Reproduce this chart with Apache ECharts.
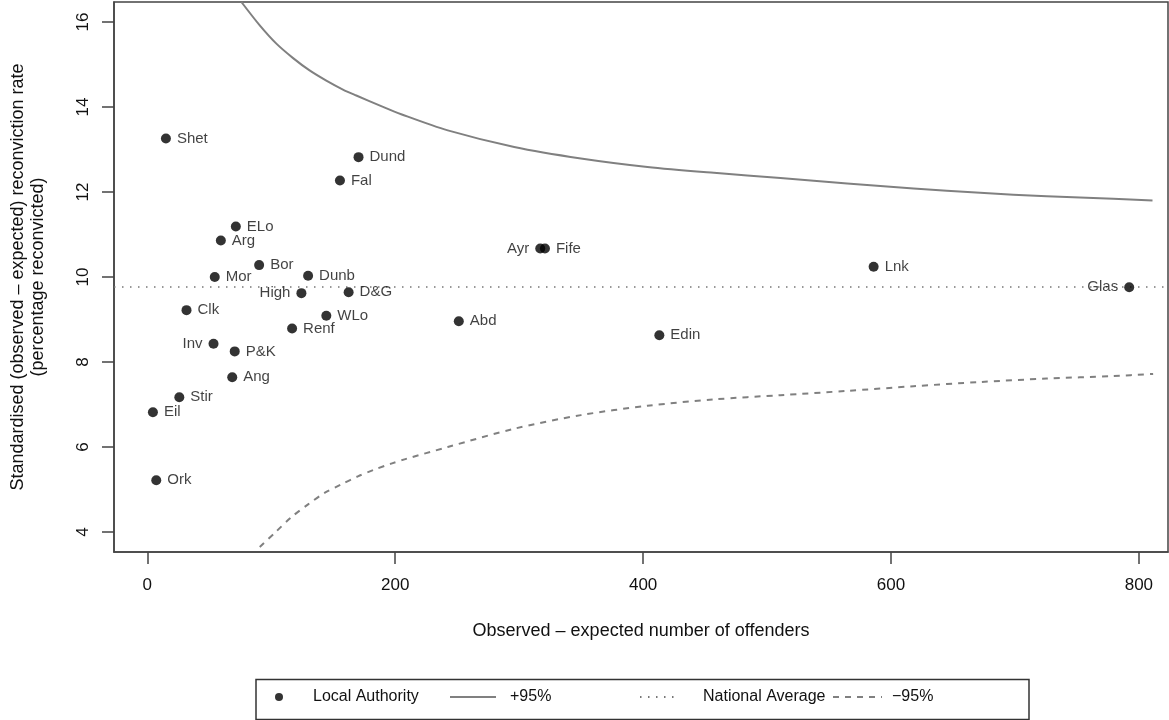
<!DOCTYPE html>
<html><head><meta charset="utf-8">
<script src="https://cdn.jsdelivr.net/npm/echarts@6/dist/echarts.min.js"></script>
<style>html,body{margin:0;padding:0;background:#fff}#c{width:1169px;height:720px}</style>
</head><body><div id="c"></div>
<script>
// Local authorities
const names = ['Shet','Dund','Fal','ELo','Arg','Bor','Mor','Dunb','High','D&G','Clk','WLo','Renf','Inv','P&K','Ang','Stir','Eil','Ork','Ayr','Fife','Lnk','Glas','Abd','Edin'];
const obsMinusExp = [15.0,170.4,155.4,71.4,59.3,90.2,54.4,129.7,124.3,162.4,31.6,144.4,116.8,53.4,70.5,68.5,25.8,4.5,7.2,317.0,320.8,586.0,792.2,251.3,413.1];
const rate = [13.26,12.82,12.27,11.19,10.86,10.28,10.00,10.03,9.62,9.64,9.22,9.09,8.79,8.43,8.25,7.64,7.17,6.82,5.22,10.67,10.67,10.24,9.76,8.96,8.63];
const labelSide = ['right','right','right','right','right','right','right','right','left','right','right','right','right','left','right','right','right','right','right','left','right','right','left','right','right'];

// Control limits
const upperX = [75.9,90.7,104.1,117.6,130.9,144.4,157.8,168.6,188.7,204.8,242.4,296.0,349.8,403.5,457.1,510.8,564.6,618.2,671.9,725.6,779.3,811.0];
const upperY = [16.47,15.92,15.49,15.15,14.86,14.62,14.41,14.27,14.02,13.83,13.45,13.06,12.79,12.59,12.45,12.33,12.20,12.08,11.98,11.90,11.84,11.80];
const lowerX = [90.7,102.8,116.2,129.7,143.0,156.5,169.9,183.3,196.8,207.5,242.4,296.0,349.8,403.5,457.1,510.8,564.6,618.2,671.9,725.6,779.3,811.5];
const lowerY = [3.65,3.98,4.35,4.65,4.92,5.12,5.31,5.47,5.61,5.71,6.00,6.43,6.75,6.97,7.12,7.22,7.32,7.43,7.53,7.61,7.67,7.72];
const nationalAverage = 9.78;

// Axes
const xTicks = [0,200,400,600,800];
const yTicks = [4,6,8,10,12,14,16];
const xRange = [-26.9, 823.5];
const yRange = [3.53, 16.47];

const FONT = 'Liberation Sans, Arial, Helvetica, sans-serif';
const AX = '#444';
const TXT = '#111';

const chart = echarts.init(document.getElementById('c'), null, {renderer:'canvas'});

const points = names.map((n,i)=>({
  name:n, value:[obsMinusExp[i], rate[i]],
  label:{position:labelSide[i]}
}));

function legendItem(name, left, itemWidth, padLeft, extra){
  return Object.assign({
    data:[name], left:left, top:687, padding:0,
    itemWidth:itemWidth, itemHeight:14, selectedMode:false,
    itemStyle:{color:'rgba(0,0,0,0)', borderColor:'rgba(0,0,0,0)', borderWidth:0},
    textStyle:{fontFamily:FONT, fontSize:16, color:TXT, lineHeight:20, padding:[0,0,0,padLeft]}
  }, extra||{});
}

chart.setOption({
  animation:false,
  backgroundColor:'#fff',
  textStyle:{fontFamily:FONT},
  grid:{left:112, top:2, width:1056, height:550, show:true, borderColor:AX, borderWidth:1.5, backgroundColor:'transparent'},
  xAxis:{
    type:'value', min:xRange[0], max:xRange[1],
    name:'Observed \u2013 expected number of offenders', nameLocation:'middle', nameGap:70,
    nameTextStyle:{fontFamily:FONT, fontSize:18, color:TXT},
    axisLine:{show:true, onZero:false, lineStyle:{color:AX, width:1.5}},
    axisTick:{show:true, length:12, lineStyle:{color:AX, width:1.5}, customValues:xTicks},
    axisLabel:{fontFamily:FONT, fontSize:17, color:TXT, margin:25, customValues:xTicks},
    splitLine:{show:false}
  },
  yAxis:{
    type:'value', min:yRange[0], max:yRange[1],
    name:'Standardised (observed \u2013 expected) reconviction rate\n(percentage reconvicted)',
    nameLocation:'middle', nameGap:66, nameRotate:90,
    nameTextStyle:{fontFamily:FONT, fontSize:18, color:TXT, lineHeight:20, align:'center'},
    axisLine:{show:true, onZero:false, lineStyle:{color:AX, width:1.5}},
    axisTick:{show:true, length:12, lineStyle:{color:AX, width:1.5}, customValues:yTicks},
    axisLabel:{fontFamily:FONT, fontSize:17, color:TXT, margin:22, rotate:90, customValues:yTicks},
    splitLine:{show:false}
  },
  legend:[
    legendItem('Local Authority', 275, 8, 25, {itemHeight:8, icon:'circle', itemStyle:{color:'#000'}}),
    legendItem('+95%', 449, 46, 9),
    legendItem('National Average', 639, 39, 19),
    legendItem('\u221295%', 832, 49, 5)
  ],
  graphic:[{
    type:'rect', left:253.5, top:677, silent:true,
    shape:{width:773, height:40},
    style:{fill:'none', stroke:'#333', lineWidth:1.5}
  }],
  series:[
    {
      name:'Local Authority', type:'scatter', data:points,
      symbol:'circle', symbolSize:10, clip:true,
      itemStyle:{color:'#000'},
      label:{show:true, formatter:'{b}', fontFamily:FONT, fontSize:15, color:TXT, distance:6},
      z:5
    },
    {
      name:'+95%', type:'line', data:upperX.map((x,i)=>[x,upperY[i]]),
      symbol:'none', smooth:0.3, clip:true,
      lineStyle:{color:'#808080', width:2, type:'solid', join:'round'},
      itemStyle:{color:'#808080'}
    },
    {
      name:'National Average', type:'line', data:[],
      symbol:'none',
      lineStyle:{color:'#777', width:1.5, type:[1.5,6.5]},
      itemStyle:{color:'#777'},
      markLine:{silent:true, symbol:'none', label:{show:false},
        lineStyle:{color:'#777', width:1.5, type:[1.5,6.5]},
        data:[{yAxis:nationalAverage}]}
    },
    {
      name:'\u221295%', type:'line', data:lowerX.map((x,i)=>[x,lowerY[i]]),
      symbol:'none', smooth:0.3, clip:true,
      lineStyle:{color:'#808080', width:2, type:[6,6], join:'round'},
      itemStyle:{color:'#808080'}
    }
  ]
});
</script>
</body></html>
